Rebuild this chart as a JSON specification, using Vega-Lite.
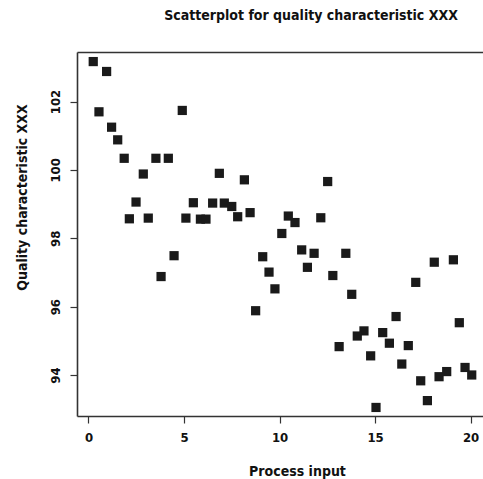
{
  "$schema": "https://vega.github.io/schema/vega-lite/v6.json",
  "autosize": "none",
  "width": 406,
  "height": 364,
  "padding": {"left": 77, "top": 52, "right": 0, "bottom": 63},
  "background": "white",
  "title": {
    "text": "Scatterplot for quality characteristic XXX",
    "font": "DejaVu Sans Condensed, Liberation Sans Narrow, Roboto Condensed, DejaVu Sans, sans-serif",
    "fontSize": 14,
    "fontWeight": "bold",
    "color": "#111",
    "anchor": "middle",
    "dx": 31,
    "offset": 29
  },
  "config": {
    "view": {"stroke": null},
    "axis": {
      "grid": false,
      "domain": true,
      "domainColor": "#333",
      "domainWidth": 1.6,
      "tickColor": "#333",
      "tickSize": 7,
      "tickWidth": 1.2,
      "labelFont": "DejaVu Sans Condensed, Liberation Sans Narrow, DejaVu Sans, sans-serif",
      "labelFontSize": 13,
      "labelFontWeight": "bold",
      "labelColor": "#111",
      "titleFont": "DejaVu Sans Condensed, Liberation Sans Narrow, DejaVu Sans, sans-serif",
      "titleFontSize": 14,
      "titleFontWeight": "bold",
      "titleColor": "#111"
    }
  },
  "data": {
    "values": [
      {"x": 0.25, "y": 103.17}, {"x": 0.95, "y": 102.88}, {"x": 0.55, "y": 101.70},
      {"x": 1.21, "y": 101.25}, {"x": 1.53, "y": 100.88}, {"x": 1.87, "y": 100.34},
      {"x": 3.53, "y": 100.34}, {"x": 4.18, "y": 100.34}, {"x": 2.87, "y": 99.88},
      {"x": 4.91, "y": 101.74}, {"x": 2.49, "y": 99.06}, {"x": 2.14, "y": 98.57},
      {"x": 3.13, "y": 98.59}, {"x": 5.49, "y": 99.04}, {"x": 5.10, "y": 98.59},
      {"x": 5.86, "y": 98.56}, {"x": 6.15, "y": 98.56}, {"x": 6.50, "y": 99.03},
      {"x": 7.11, "y": 99.03}, {"x": 7.50, "y": 98.93}, {"x": 6.85, "y": 99.90},
      {"x": 8.16, "y": 99.71}, {"x": 8.46, "y": 98.75}, {"x": 7.81, "y": 98.63},
      {"x": 10.46, "y": 98.65}, {"x": 10.81, "y": 98.46}, {"x": 12.16, "y": 98.60},
      {"x": 12.52, "y": 99.66}, {"x": 10.12, "y": 98.14}, {"x": 4.48, "y": 97.49},
      {"x": 3.80, "y": 96.88}, {"x": 11.16, "y": 97.66}, {"x": 11.81, "y": 97.56},
      {"x": 9.12, "y": 97.46}, {"x": 11.46, "y": 97.15}, {"x": 12.79, "y": 96.91},
      {"x": 9.45, "y": 97.01}, {"x": 9.76, "y": 96.52}, {"x": 8.75, "y": 95.88},
      {"x": 13.47, "y": 97.56}, {"x": 13.78, "y": 96.36}, {"x": 18.10, "y": 97.30},
      {"x": 19.10, "y": 97.37}, {"x": 17.13, "y": 96.71}, {"x": 16.10, "y": 95.71},
      {"x": 19.41, "y": 95.53}, {"x": 14.42, "y": 95.29}, {"x": 14.07, "y": 95.14},
      {"x": 15.40, "y": 95.24}, {"x": 15.75, "y": 94.93}, {"x": 16.74, "y": 94.86},
      {"x": 13.12, "y": 94.83}, {"x": 14.77, "y": 94.56}, {"x": 16.40, "y": 94.32},
      {"x": 17.39, "y": 93.83}, {"x": 18.35, "y": 93.95}, {"x": 18.75, "y": 94.10},
      {"x": 19.71, "y": 94.22}, {"x": 20.06, "y": 94.00}, {"x": 17.74, "y": 93.25},
      {"x": 15.05, "y": 93.05}
    ]
  },
  "layer": [
    {
      "mark": {"type": "point", "shape": "square", "filled": true, "size": 85, "color": "#1a1a1a", "opacity": 1},
      "encoding": {
        "x": {
          "field": "x",
          "type": "quantitative",
          "scale": {"domain": [-0.6, 20.65], "nice": false, "zero": false},
          "axis": {
            "title": "Process input",
            "orient": "bottom",
            "values": [0, 5, 10, 15, 20],
            "labelPadding": 8,
            "titleX": 220,
            "titleY": 48,
            "titleBaseline": "top",
            "titleAnchor": "middle"
          }
        },
        "y": {
          "field": "y",
          "type": "quantitative",
          "scale": {"domain": [92.8, 103.45], "nice": false, "zero": false},
          "axis": {
            "title": "Quality characteristic XXX",
            "values": [94, 96, 98, 100, 102],
            "labelAngle": -90,
            "labelAlign": "center",
            "labelBaseline": "middle",
            "labelPadding": 15,
            "titleAngle": -90,
            "titleX": -55,
            "titleY": 145,
            "titleAlign": "center",
            "titleBaseline": "middle"
          }
        }
      }
    },
    {
      "mark": {"type": "point", "opacity": 0},
      "encoding": {
        "x": {
          "field": "x",
          "type": "quantitative",
          "axis": {"orient": "top", "title": null, "labels": false, "ticks": false, "domain": true}
        },
        "y": {"field": "y", "type": "quantitative"}
      }
    }
  ],
  "resolve": {"axis": {"x": "independent"}}
}
